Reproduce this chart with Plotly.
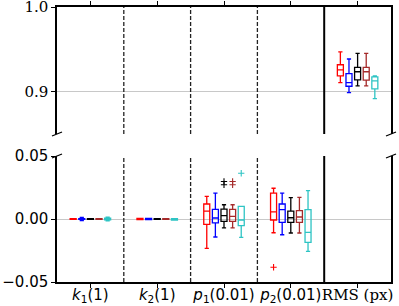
import plotly.graph_objects as go

categories = ["k1", "k2", "p1", "p2", "RMS"]
tick_labels = ["<i>k</i><sub>1</sub>(1)", "<i>k</i><sub>2</sub>(1)",
               "<i>p</i><sub>1</sub>(0.01)", "<i>p</i><sub>2</sub>(0.01)",
               "<span style=\"font-family:DejaVu Serif\">RMS (px)</span>"]
series_names = ["red", "blue", "black", "brown", "cyan"]
colors = ["#ff0000", "#0000ff", "#000000", "#a52a2a", "#2ec4c4"]

# per series: lists over categories [k1, k2, p1, p2, RMS]
lowerfence = [
    [-0.0003, -0.0004, -0.0233, -0.0109, 0.9107],
    [-0.0012, -0.0004, -0.0143, -0.0125, 0.8988],
    [-0.0002, -0.0003, -0.0071, -0.0111, 0.9068],
    [-0.0003, -0.0003, -0.0071, -0.0111, 0.9068],
    [-0.0014, -0.0009, -0.0146, -0.0257, 0.8917],
]
q1 = [
    [-0.0003, -0.0004, -0.0043, -0.0008, 0.9187],
    [-0.0003, -0.0004, -0.0030, -0.0027, 0.9064],
    [-0.0002, -0.0003, -0.0019, -0.0027, 0.9139],
    [-0.0003, -0.0003, -0.0019, -0.0027, 0.9136],
    [-0.0006, -0.0009, -0.0053, -0.0185, 0.9032],
]
median = [
    [0.0, 0.0, 0.0063, 0.0056, 0.9258],
    [0.0, 0.0, 0.0008, 0.0074, 0.9107],
    [0.0, 0.0, 0.0026, 0.0010, 0.9235],
    [0.0, 0.0, 0.0021, 0.0016, 0.9235],
    [0.0, -0.0004, -0.0008, -0.0106, 0.9127],
]
q3 = [
    [0.0003, 0.0004, 0.0119, 0.0206, 0.9318],
    [0.0003, 0.0004, 0.0076, 0.0119, 0.9214],
    [0.0002, 0.0003, 0.0079, 0.0063, 0.9286],
    [0.0003, 0.0003, 0.0076, 0.0066, 0.9286],
    [0.0006, 0.0002, 0.0100, 0.0074, 0.9175],
]
upperfence = [
    [0.0003, 0.0004, 0.0180, 0.0244, 0.9469],
    [0.0012, 0.0004, 0.0206, 0.0206, 0.9386],
    [0.0002, 0.0003, 0.0113, 0.0169, 0.9452],
    [0.0003, 0.0003, 0.0113, 0.0171, 0.9452],
    [0.0014, 0.0002, 0.0100, 0.0225, 0.9187],
]
# outliers: (series index, category index, value)
outliers = [
    (2, 2, 0.0298), (2, 2, 0.0272),
    (3, 2, 0.0298), (3, 2, 0.0272),
    (4, 2, 0.0363),
    (0, 3, -0.0383),
]

offsets = [-0.258, -0.129, 0.0, 0.129, 0.258]
BOX_W = 0.09

fig = go.Figure()
for s in range(5):
    for c in range(5):
        ya = "y2" if categories[c] == "RMS" else "y"
        fig.add_trace(go.Box(
            x=[c + offsets[s]], q1=[q1[s][c]], median=[median[s][c]], q3=[q3[s][c]],
            lowerfence=[lowerfence[s][c]], upperfence=[upperfence[s][c]],
            width=BOX_W, whiskerwidth=0.7, boxpoints=False,
            line=dict(color=colors[s], width=1.3), fillcolor="rgba(0,0,0,0)",
            xaxis="x" if ya == "y" else "x2", yaxis=ya, showlegend=False,
            hoverinfo="skip"))

for s, c, v in outliers:
    fig.add_trace(go.Scatter(
        x=[c + offsets[s]], y=[v], mode="markers",
        marker=dict(symbol="cross-thin", size=4.5, line=dict(color=colors[s], width=1.1)),
        showlegend=False, hoverinfo="skip"))

shapes = []
for b in [0.5, 1.5, 2.5, 3.5]:
    for yr in ["y domain", "y2 domain"]:
        xr = "x" if yr == "y domain" else "x2"
        if b < 3:
            shapes.append(dict(type="line", xref=xr, yref=yr, x0=b, x1=b, y0=0, y1=1,
                               line=dict(color="#222", width=1.3, dash="4px,2px")))
        else:
            shapes.append(dict(type="line", xref=xr, yref=yr, x0=b, x1=b, y0=0, y1=1,
                               line=dict(color="black", width=2)))

bot_top = 126 / 275
top_bot = 148 / 275
for xa in [0, 1]:
    for ya in [bot_top, top_bot]:
        shapes.append(dict(type="line", xref="paper", yref="paper",
                           xsizemode="pixel", ysizemode="pixel",
                           xanchor=xa, yanchor=ya, x0=-5, x1=5, y0=-2, y1=2,
                           line=dict(color="black", width=1.3)))

fig.update_layout(
    width=399, height=306,
    margin=dict(l=57, r=8, t=7, b=24),
    paper_bgcolor="white", plot_bgcolor="white",
    shapes=shapes,
    xaxis=dict(domain=[0, 1], anchor="y", range=[-0.5, 4.5],
               tickvals=list(range(5)), ticktext=tick_labels, tickangle=0,
               ticks="outside", ticklen=4, tickcolor="black", automargin=False,
               ticklabeloverflow="allow", ticklabelstandoff=-6,
               showline=True, linecolor="black", linewidth=1.5, mirror=False,
               showgrid=False, zeroline=False,
               tickfont=dict(family="DejaVu Sans", size=15, color="black")),
    xaxis2=dict(domain=[0, 1], anchor="y2", matches="x", range=[-0.5, 4.5], side="top",
                tickvals=list(range(5)), showticklabels=False, automargin=False,
                ticks="outside", ticklen=4, tickcolor="black",
                showline=True, linecolor="black", linewidth=1.5,
                showgrid=False, zeroline=False),
    yaxis=dict(domain=[0, bot_top], anchor="x", range=[-0.05, 0.05],
               tickvals=[-0.05, 0.0, 0.05], ticktext=["\u22120.05", "0.00", "0.05"],
               ticks="outside", ticklen=4, tickcolor="black", automargin=False,
               ticklabeloverflow="allow",
               showline=True, linecolor="black", linewidth=1.5, mirror=True,
               showgrid=True, gridcolor="#c8c8c8", gridwidth=1, zeroline=False,
               tickfont=dict(family="DejaVu Sans", size=15, color="black")),
    yaxis2=dict(domain=[top_bot, 1], anchor="x2", range=[0.85, 1.0],
                tickvals=[0.9, 1.0], ticktext=["0.9", "1.0"], automargin=False,
                ticklabeloverflow="allow",
                ticks="outside", ticklen=4, tickcolor="black",
                showline=True, linecolor="black", linewidth=1.5, mirror=True,
                showgrid=True, gridcolor="#c8c8c8", gridwidth=1, zeroline=False,
                tickfont=dict(family="DejaVu Serif", size=15, color="black")),
)

fig.write_html("out.html", config={"displayModeBar": False},
               post_script="document.body.style.margin='0';document.body.style.overflow='hidden';")
